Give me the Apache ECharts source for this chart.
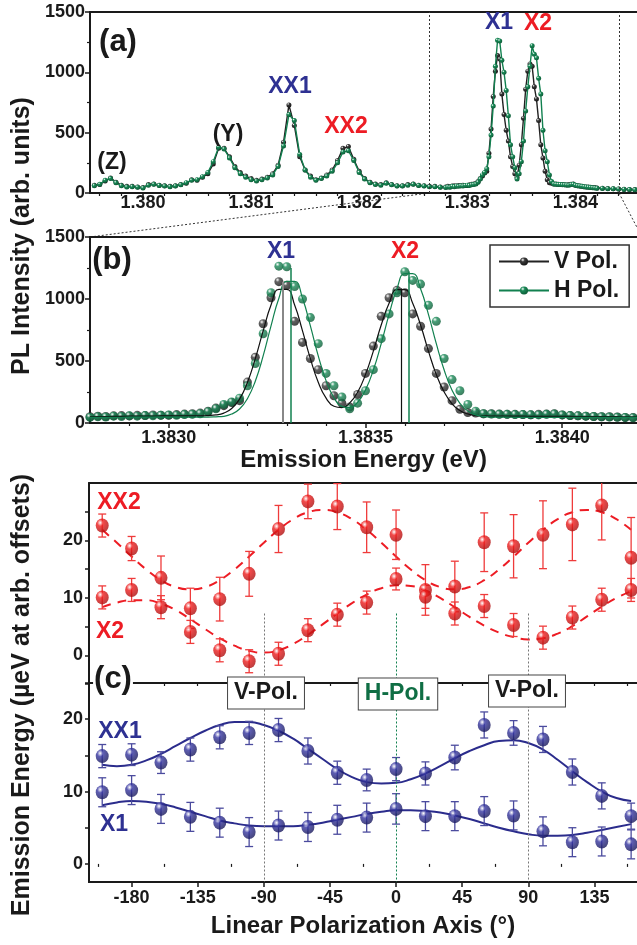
<!DOCTYPE html>
<html>
<head>
<meta charset="utf-8">
<script src="https://cdn.jsdelivr.net/npm/echarts@6/dist/echarts.min.js"></script>
<style>
  html, body { margin: 0; padding: 0; background: #fff; }
  #chart { width: 637px; height: 945px; }
</style>
</head>
<body>
<div id="chart"></div>
<script>
// ---- spectrum (a)/(b) ----
// outer part of the spectrum, sampled every 50 ueV
const coarseStep = 0.00005;
const leftStart = 1.37955;
const vLeft = [65, 70, 100, 125, 90, 65, 55, 55, 50, 45, 70, 75, 65, 60, 55, 60, 70, 80, 110, 105,
  130, 160, 240, 370, 370, 300, 220, 170, 140, 120, 105, 115, 130, 160, 230, 420, 730, 560, 300, 190,
  140, 110, 125, 150, 190, 270, 370, 385, 280, 180, 120, 90, 75, 70, 85, 70, 60, 60, 70, 75,
  65, 60, 55, 55, 50];
const hLeft = [60, 72, 105, 120, 85, 60, 50, 52, 48, 42, 65, 72, 62, 58, 52, 58, 68, 85, 105, 110,
  135, 170, 260, 380, 365, 290, 210, 160, 130, 110, 100, 110, 125, 150, 220, 390, 650, 600, 320, 190,
  130, 105, 120, 140, 180, 250, 340, 350, 270, 170, 115, 85, 70, 65, 80, 68, 58, 58, 65, 72,
  62, 58, 52, 52, 48];
const rightStart = 1.38425;
const vRight = [40, 38, 36, 34, 32, 30, 28];
const hRight = [38, 36, 35, 33, 30, 28, 27];

// X1 / X2 region, sampled every 20 ueV from 1.38280
const fineStart = 1.38280;
const fineStep = 0.00002;
const vMid = [50, 55, 52, 58, 60, 57, 62, 60, 65, 63, 62, 68, 72, 75, 80,
  95, 120, 140, 165, 180, 330, 530, 800, 1010, 1140, 1110, 820, 650, 520, 430,
  300, 220, 160, 130, 230, 400, 620, 860, 1010, 1070, 1050, 880, 780, 600, 400,
  290, 180, 110, 85, 80, 75,
  75, 72, 70, 70, 68, 66, 70, 72, 75, 65, 60, 58, 55, 52, 50, 50, 48, 45, 45, 42];
const hMid = [45, 50, 48, 55, 52, 58, 55, 60, 58, 62, 65, 62, 68, 70, 75,
  90, 115, 150, 170, 200, 300, 480, 720, 1050, 1265, 1260, 1100, 1000, 850, 640,
  400, 300, 210, 115, 160, 260, 430, 680, 880, 1050, 1220, 1150, 1120, 950, 820,
  520, 350, 260, 150, 95, 75,
  72, 70, 70, 68, 68, 66, 65, 70, 72, 65, 60, 58, 55, 52, 50, 48, 46, 44, 42, 40];
// gaussian fits, same grid
const vFit = [50, 51, 52, 53, 54, 55, 55, 56, 56, 57, 57, 57, 58, 58, 58,
  60, 65, 80, 117, 193, 327, 518, 743, 951, 1078, 1078, 951, 743, 519, 329,
  200, 135, 124, 162, 248, 390, 580, 790, 965, 1075, 1075, 965, 790, 580, 390,
  250, 155, 100, 73, 62, 57,
  56, 56, 55, 55, 55, 54, 54, 54, 53, 53, 53, 52, 52, 52, 51, 51, 51, 50, 50, 50];
const hFit = [45, 45, 46, 46, 46, 47, 47, 47, 47, 48, 48, 48, 48, 48, 48,
  48, 50, 54, 72, 113, 196, 337, 541, 783, 1006, 1142, 1142, 1006, 783, 542,
  340, 204, 134, 124, 167, 267, 427, 640, 876, 1083, 1204, 1204, 1083, 876, 640,
  427, 264, 158, 97, 66, 53,
  48, 47, 47, 46, 46, 46, 45, 45, 45, 45, 45, 45, 45, 45, 45, 45, 45, 45, 45, 45];
// fitted peak centres and heights (b)
const peakV = [[1.38329, 1140], [1.38359, 1086]];
const peakH = [[1.38331, 1250], [1.38361, 1222]];
const zoomEdges = [1.38265, 1.38441];

const aTicks = [1.380, 1.381, 1.382, 1.383, 1.384];
const aMinor = [1.3796, 1.3798, 1.3802, 1.3804, 1.3806, 1.3808, 1.3812, 1.3814, 1.3816, 1.3818,
  1.3822, 1.3824, 1.3826, 1.3828, 1.3832, 1.3834, 1.3836, 1.3838, 1.3842, 1.3844];
const bTicks = [1.3830, 1.3835, 1.3840];
const bMinor = [1.3829, 1.3831, 1.3832, 1.3833, 1.3834, 1.3836, 1.3837, 1.3838, 1.3839, 1.3841];

// ---- polarization (c) ----
const angles = [-200, -180, -160, -140, -120, -100, -80, -60, -40, -20, 0, 20, 40, 60, 80, 100, 120, 140, 160];
const xx2 = [22.6, 18.6, 13.5, 8.2, 9.8, 14.2, 22.0, 26.8, 25.9, 22.3, 21.0, 11.4, 12.0, 19.7, 19.0, 21.0, 22.8, 26.1, 17.0];
const xx2Err = [2.0, 2.1, 3.8, 3.5, 3.8, 3.9, 4.1, 3.0, 4.0, 4.4, 4.3, 4.4, 4.4, 5.1, 5.5, 5.9, 6.3, 6.0, 7.0];
const x2 = [10.1, 11.4, 8.4, 4.1, 0.9, -1.0, 0.3, 4.4, 7.1, 9.2, 13.3, 10.2, 7.3, 8.6, 5.3, 3.1, 6.6, 9.7, 11.4];
const x2Err = [2.0, 2.0, 2.0, 2.0, 2.0, 2.0, 2.0, 2.0, 2.0, 2.0, 1.9, 2.0, 2.0, 2.0, 2.0, 2.0, 2.0, 2.0, 2.0];
const xx1 = [14.9, 15.1, 14.0, 15.8, 17.5, 18.1, 18.5, 15.6, 12.6, 11.6, 13.1, 12.5, 14.7, 19.2, 18.1, 17.2, 12.7, 9.4, 6.6];
const xx1Err = [1.6, 1.5, 1.5, 1.6, 1.6, 1.6, 1.6, 1.8, 1.6, 1.5, 1.6, 1.6, 1.7, 1.8, 1.7, 1.8, 1.8, 1.8, 1.8];
const x1 = [9.9, 10.2, 7.6, 6.5, 5.7, 4.4, 5.3, 5.1, 6.1, 6.4, 7.6, 6.6, 6.6, 7.3, 6.7, 4.5, 3.0, 3.1, 2.7];
const x1Err = [2.0, 2.0, 2.0, 2.0, 2.0, 2.0, 2.0, 2.0, 2.0, 2.0, 2.1, 2.0, 2.0, 2.0, 2.0, 2.0, 2.0, 2.0, 2.0];

const fitAng = [-200, -190, -180, -170, -160, -150, -140, -130, -120, -110, -100, -90, -80, -70, -60, -50, -40, -30, -20, -10,
  0, 10, 20, 30, 40, 50, 60, 70, 80, 90, 100, 110, 120, 130, 140, 150, 160];
const xx2Fit = [21.85, 19.6, 17.2, 14.95, 13.1, 11.9, 11.5, 11.9, 13.1, 14.95, 17.2, 19.6, 21.85, 23.7, 24.9, 25.3, 24.9, 23.7, 21.85, 19.6,
  17.2, 14.95, 13.1, 11.9, 11.5, 11.9, 13.1, 14.95, 17.2, 19.6, 21.85, 23.7, 24.9, 25.3, 24.9, 23.7, 21.85];
const x2Fit = [8.4, 9.2, 9.6, 9.6, 9.0, 7.9, 6.3, 4.6, 3.0, 1.7, 0.8, 0.5, 0.9, 2.0, 3.6, 5.4, 7.3, 9.1, 10.6, 11.7,
  12.2, 12.1, 11.3, 10.0, 8.4, 6.7, 5.2, 4.0, 3.2, 2.8, 3.0, 3.8, 5.1, 6.8, 8.5, 10.0, 11.2];
const xx1Fit = [13.7, 13.5, 13.7, 14.3, 15.2, 16.3, 17.4, 18.4, 19.2, 19.6, 19.6, 19.2, 18.4, 17.3, 15.9, 14.5, 13.1, 12.0, 11.3, 11.1,
  11.2, 11.7, 12.5, 13.5, 14.6, 15.6, 16.4, 17.0, 17.1, 16.7, 15.8, 14.4, 12.8, 11.3, 10.0, 9.1, 8.7];
const x1Fit = [8.1, 8.5, 8.7, 8.6, 8.3, 7.8, 7.2, 6.6, 6.0, 5.6, 5.3, 5.2, 5.2, 5.2, 5.4, 5.7, 6.1, 6.5, 6.9, 7.2,
  7.4, 7.4, 7.3, 7.1, 6.7, 6.2, 5.6, 5.0, 4.5, 4.1, 3.9, 3.9, 4.0, 4.3, 4.7, 5.1, 5.5];
const polLines = [-90, 0, 90];
const polTop = 7.3;
const cTicks = [-180, -135, -90, -45, 0, 45, 90, 135];
const cMinor = [-202.5, -157.5, -112.5, -67.5, -22.5, 22.5, 67.5, 112.5, 157.5];

// ---- helpers ----
const FONT = '"Liberation Sans", Arial, sans-serif';
const INK = '#1a1a1a';
const BLUE = '#2e3192';
const RED = '#ed1c24';
const GREEN = '#11804f';

const eLeft = vLeft.map((_, i) => +(leftStart + i * coarseStep).toFixed(5));
const eMid = vMid.map((_, i) => +(fineStart + i * fineStep).toFixed(5));
const eRight = vRight.map((_, i) => +(rightStart + i * coarseStep).toFixed(5));
const eAll = eLeft.concat(eMid, eRight);
const zip = (xs, ys) => xs.map((x, i) => [x, ys[i]]);

function sphere(base, dark) {
  return {
    type: 'radial', x: 0.35, y: 0.3, r: 0.8,
    colorStops: [{offset: 0, color: '#ffffff'}, {offset: 0.3, color: base}, {offset: 1, color: dark}]
  };
}

function errorBars(xi, yi, xs, ys, errs, color) {
  return {
    type: 'custom', xAxisIndex: xi, yAxisIndex: yi, clip: true, z: 3, silent: true,
    data: xs.map((x, i) => [x, ys[i] - errs[i], ys[i] + errs[i]]),
    encode: {x: 0, y: [1, 2]},
    renderItem: function (params, api) {
      const lo = api.coord([api.value(0), api.value(1)]);
      const hi = api.coord([api.value(0), api.value(2)]);
      const w = 4;
      const st = {stroke: color, lineWidth: 1.3};
      return {
        type: 'group', children: [
          {type: 'line', shape: {x1: lo[0], y1: lo[1], x2: hi[0], y2: hi[1]}, style: st},
          {type: 'line', shape: {x1: lo[0] - w, y1: lo[1], x2: lo[0] + w, y2: lo[1]}, style: st},
          {type: 'line', shape: {x1: hi[0] - w, y1: hi[1], x2: hi[0] + w, y2: hi[1]}, style: st}
        ]
      };
    }
  };
}

function txt(text, x, y, size, color, extra) {
  return {
    type: 'text', x: x, y: y, z: 100,
    ...(extra || {}),
    style: Object.assign({
      text: text, fill: color, font: 'bold ' + size + 'px ' + FONT,
      align: 'center', verticalAlign: 'middle', textAlign: 'center', textVerticalAlign: 'middle'
    }, (extra && extra.style) || {})
  };
}

const lineAx = {show: true, onZero: false, lineStyle: {color: INK, width: 2}};
const lblStyle = {color: INK, fontFamily: FONT, fontWeight: 'bold', fontSize: 18};

function mainX(grid, min, max, ticks, digits, margin) {
  return {
    type: 'value', gridIndex: grid, min: min, max: max, position: 'bottom',
    axisLine: lineAx, splitLine: {show: false},
    axisTick: {show: true, customValues: ticks, length: 5, lineStyle: {color: INK, width: 1.5}},
    axisLabel: Object.assign({customValues: ticks, margin: margin,
      formatter: v => digits == null ? String(Math.round(v)) : v.toFixed(digits)}, lblStyle)
  };
}
function minorX(grid, min, max, ticks, pos, inside) {
  return {
    type: 'value', gridIndex: grid, min: min, max: max, position: pos || 'bottom',
    axisLine: {show: false}, splitLine: {show: false}, axisLabel: {show: false},
    axisTick: {show: true, inside: !!inside, customValues: ticks, length: 3, lineStyle: {color: INK, width: 1.2}}
  };
}
function topX(grid, min, max) {
  return {
    type: 'value', gridIndex: grid, min: min, max: max, position: 'top',
    axisLine: lineAx, splitLine: {show: false}, axisLabel: {show: false}, axisTick: {show: false}
  };
}
function intensityY(grid) {
  return {
    type: 'value', gridIndex: grid, min: 0, max: 1500, interval: 500,
    axisLine: lineAx, splitLine: {show: false},
    axisTick: {show: true, length: 5, lineStyle: {color: INK, width: 1.5}},
    minorTick: {show: true, splitNumber: 2, length: 3, lineStyle: {color: INK, width: 1.2}},
    axisLabel: Object.assign({margin: 5, formatter: v => String(v)}, lblStyle)
  };
}

const aMin = 1.37951, aMax = 1.38457;
const bMin = 1.38280, bMax = 1.38419;
const cMin = -209, cMax = 164;
const redMin = -39.4, redMax = 30;
const blueMin = -2.5, blueMax = 25;

const chart = echarts.init(document.getElementById('chart'));

const option = {
  animation: false,
  backgroundColor: '#ffffff',
  grid: [
    {left: 90, top: 12, width: 547, height: 181},
    {left: 90, top: 237, width: 547, height: 186},
    {left: 89, top: 483, width: 548, height: 399},
    {left: 89, top: 683, width: 548, height: 199}
  ],
  legend: {
    data: ['V Pol.', 'H Pol.'], orient: 'vertical', left: 490, top: 245,
    backgroundColor: '#fff', borderColor: '#333', borderWidth: 1.5, borderRadius: 0,
    padding: [5, 10, 5, 8], itemGap: 6, itemWidth: 50, itemHeight: 10, selectedMode: false,
    textStyle: {color: INK, fontFamily: FONT, fontWeight: 'bold', fontSize: 23}
  },
  xAxis: [
    mainX(0, aMin, aMax, aTicks, 3, 1),
    minorX(0, aMin, aMax, aMinor),
    topX(0, aMin, aMax),
    Object.assign(mainX(1, bMin, bMax, bTicks, 4, 6), {
      name: 'Emission Energy (eV)', nameLocation: 'middle', nameGap: 25,
      nameTextStyle: {color: INK, fontFamily: FONT, fontWeight: 'bold', fontSize: 24}
    }),
    minorX(1, bMin, bMax, bMinor),
    topX(1, bMin, bMax),
    topX(2, cMin, cMax),
    Object.assign(mainX(3, cMin, cMax, cTicks, null, 7), {
      name: 'Linear Polarization Axis (°)', nameLocation: 'middle', nameGap: 32,
      nameTextStyle: {color: INK, fontFamily: FONT, fontWeight: 'bold', fontSize: 24}
    }),
    minorX(3, cMin, cMax, cMinor),
    Object.assign(minorX(3, cMin, cMax, cTicks.concat(cMinor), 'top', true), {axisLine: lineAx})
  ],
  yAxis: [
    intensityY(0),
    intensityY(1),
    {
      type: 'value', gridIndex: 2, min: redMin, max: redMax,
      axisLine: lineAx, splitLine: {show: false},
      axisTick: {show: true, customValues: [-5, 0, 5, 10, 15, 20, 25], length: 4, lineStyle: {color: INK, width: 1.5}},
      axisLabel: Object.assign({customValues: [0, 10, 20], margin: 6}, lblStyle)
    },
    {
      type: 'value', gridIndex: 3, min: blueMin, max: blueMax,
      axisLine: lineAx, splitLine: {show: false},
      axisTick: {show: true, customValues: [0, 5, 10, 15, 20, 25], length: 4, lineStyle: {color: INK, width: 1.5}},
      axisLabel: Object.assign({customValues: [0, 10, 20], margin: 6}, lblStyle)
    }
  ],
  series: [
    // (a) full spectrum
    {
      name: 'V Pol.', type: 'line', xAxisIndex: 0, yAxisIndex: 0, z: 2,
      data: zip(eAll, vLeft.concat(vMid, vRight)),
      symbol: 'circle', symbolSize: 5, lineStyle: {color: '#222', width: 1.4},
      itemStyle: {color: sphere('#3a3a3a', '#111'), borderWidth: 0},
      markLine: {
        silent: true, symbol: 'none', label: {show: false},
        lineStyle: {color: '#333', type: [2, 2], width: 1},
        data: zoomEdges.map(e => [{coord: [e, 0]}, {coord: [e, 1500]}])
      }
    },
    {
      name: 'H Pol.', type: 'line', xAxisIndex: 0, yAxisIndex: 0, z: 3,
      data: zip(eAll, hLeft.concat(hMid, hRight)),
      symbol: 'circle', symbolSize: 5, lineStyle: {color: GREEN, width: 1.4},
      itemStyle: {color: sphere('#1a8a58', '#0b5532'), borderWidth: 0}
    },
    // (b) zoom on X1 / X2
    {
      name: 'V Pol.', type: 'scatter', xAxisIndex: 3, yAxisIndex: 1, z: 2,
      data: zip(eMid, vMid), symbolSize: 9,
      itemStyle: {color: sphere('#3a3a3a', '#111')}
    },
    {
      name: 'H Pol.', type: 'scatter', xAxisIndex: 3, yAxisIndex: 1, z: 3,
      data: zip(eMid, hMid), symbolSize: 9,
      itemStyle: {color: sphere('#1a8a58', '#0b5532')}
    },
    {
      type: 'line', xAxisIndex: 3, yAxisIndex: 1, z: 4, smooth: true, showSymbol: false,
      data: zip(eMid, vFit), lineStyle: {color: '#111', width: 1.2},
      markLine: {
        silent: true, symbol: 'none', label: {show: false},
        data: peakV.map((p, i) => [
          {coord: [p[0], 0], lineStyle: {color: i === 0 ? '#888' : '#111', width: i === 0 ? 2 : 1.2, type: 'solid'}},
          {coord: [p[0], p[1]]}
        ])
      }
    },
    {
      type: 'line', xAxisIndex: 3, yAxisIndex: 1, z: 4, smooth: true, showSymbol: false,
      data: zip(eMid, hFit), lineStyle: {color: GREEN, width: 1.2},
      markLine: {
        silent: true, symbol: 'none', label: {show: false},
        data: peakH.map(p => [
          {coord: [p[0], 0], lineStyle: {color: GREEN, width: 1.5, type: 'solid'}},
          {coord: [p[0], p[1]]}
        ])
      }
    },
    // (c) top: XX2 / X2
    {
      type: 'line', xAxisIndex: 6, yAxisIndex: 2, z: 2, smooth: true, showSymbol: false,
      data: zip(fitAng, xx2Fit), lineStyle: {color: RED, width: 2, type: [9, 7]},
      markLine: {
        silent: true, symbol: 'none', label: {show: false},
        data: polLines.map(a => [
          {coord: [a, polTop], lineStyle: {color: a === 0 ? GREEN : '#777', width: 1, type: [2, 2]}},
          {coord: [a, redMin]}
        ])
      }
    },
    {
      type: 'line', xAxisIndex: 6, yAxisIndex: 2, z: 2, smooth: true, showSymbol: false,
      data: zip(fitAng, x2Fit), lineStyle: {color: RED, width: 2, type: [9, 7]}
    },
    errorBars(6, 2, angles, xx2, xx2Err, '#ef3b3b'),
    errorBars(6, 2, angles, x2, x2Err, '#ef3b3b'),
    {
      type: 'scatter', xAxisIndex: 6, yAxisIndex: 2, z: 5, symbolSize: [13, 14],
      data: zip(angles, xx2), itemStyle: {color: sphere('#ee1c1c', '#a30d0d')}
    },
    {
      type: 'scatter', xAxisIndex: 6, yAxisIndex: 2, z: 5, symbolSize: [13, 14],
      data: zip(angles, x2), itemStyle: {color: sphere('#ee1c1c', '#a30d0d')}
    },
    // (c) bottom: XX1 / X1
    {
      type: 'line', xAxisIndex: 7, yAxisIndex: 3, z: 2, smooth: true, showSymbol: false,
      data: zip(fitAng, xx1Fit), lineStyle: {color: '#2b2c8c', width: 2}
    },
    {
      type: 'line', xAxisIndex: 7, yAxisIndex: 3, z: 2, smooth: true, showSymbol: false,
      data: zip(fitAng, x1Fit), lineStyle: {color: '#2b2c8c', width: 2}
    },
    errorBars(7, 3, angles, xx1, xx1Err, '#4b4b9e'),
    errorBars(7, 3, angles, x1, x1Err, '#4b4b9e'),
    {
      type: 'scatter', xAxisIndex: 7, yAxisIndex: 3, z: 5, symbolSize: [13, 14],
      data: zip(angles, xx1), itemStyle: {color: sphere('#3535a0', '#141450')}
    },
    {
      type: 'scatter', xAxisIndex: 7, yAxisIndex: 3, z: 5, symbolSize: [13, 14],
      data: zip(angles, x1), itemStyle: {color: sphere('#3535a0', '#141450')}
    }
  ],
  graphic: [
    // zoom guide lines from (a) to (b)
    {type: 'line', shape: {x1: 429, y1: 193, x2: 90, y2: 237}, style: {stroke: '#333', lineWidth: 1, lineDash: [2, 2]}},
    {type: 'line', shape: {x1: 619, y1: 193, x2: 642, y2: 237}, style: {stroke: '#333', lineWidth: 1, lineDash: [2, 2]}},
    // axis titles
    txt('PL Intensity (arb. units)', 22, 236, 25, INK, {rotation: Math.PI / 2}),
    txt('Emission Energy (\u00b5eV at arb. offsets)', 22, 695, 25, INK, {rotation: Math.PI / 2}),
    // panel (a)
    txt('(a)', 118, 42, 31, INK),
    txt('(Z)', 112, 163, 23, INK),
    txt('(Y)', 228, 135, 23, INK),
    txt('XX1', 290, 87, 23, BLUE),
    txt('XX2', 346, 127, 23, RED),
    txt('X1', 499, 23, 23, BLUE),
    txt('X2', 538, 24, 23, RED),
    // panel (b)
    txt('(b)', 112, 260, 31, INK),
    txt('X1', 281, 252, 23, BLUE),
    txt('X2', 405, 252, 23, RED),
    // panel (c)
    txt('XX2', 119, 503, 23, RED),
    txt('X2', 110, 632, 23, RED),
    txt('(c)', 113, 679, 31, INK, {style: {backgroundColor: '#fff', padding: [0, 1]}}),
    txt('XX1', 120, 732, 23, BLUE),
    txt('X1', 114, 825, 23, BLUE),
    txt('V-Pol.', 266, 693, 23, INK, {style: {backgroundColor: '#fff', borderColor: '#444', borderWidth: 1, padding: [5, 6, 3, 6]}}),
    txt('H-Pol.', 398, 694, 23, '#0f6e44', {style: {backgroundColor: '#fff', borderColor: '#444', borderWidth: 1, padding: [5, 6, 3, 6]}}),
    txt('V-Pol.', 527, 691, 23, INK, {style: {backgroundColor: '#fff', borderColor: '#444', borderWidth: 1, padding: [5, 6, 3, 6]}})
  ]
};

chart.setOption(option);
</script>
</body>
</html>
